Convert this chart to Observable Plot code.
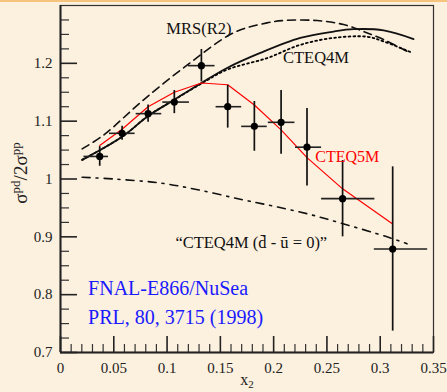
<!DOCTYPE html>
<html>
<head>
<meta charset="utf-8">
<script src="https://cdn.jsdelivr.net/npm/d3@7"></script>
<script src="https://cdn.jsdelivr.net/npm/@observablehq/plot@0.6"></script>
<style>
  html, body { margin: 0; padding: 0; background: #fcf0de; }
  #wrap { position: relative; width: 447px; height: 392px; overflow: hidden; }
  #topline { position: absolute; left: 0; top: 0; width: 447px; height: 2px; background: #f7c47e; }
</style>
</head>
<body>
<div id="wrap"><div id="chart"></div><div id="topline"></div></div>
<script>
// ---- data points (E866) ----
const xVal = [0.0368, 0.0578, 0.0822, 0.1068, 0.1322, 0.1569, 0.1819, 0.2070, 0.2313, 0.2647, 0.3117];
const yVal = [1.039, 1.079, 1.113, 1.133, 1.196, 1.125, 1.091, 1.098, 1.055, 0.966, 0.879];
const yErr = [0.017, 0.012, 0.015, 0.020, 0.028, 0.037, 0.043, 0.055, 0.067, 0.066, 0.142];
const xLo  = [0.022, 0.046, 0.071, 0.096, 0.120, 0.146, 0.170, 0.195, 0.2205, 0.245, 0.2945];
const xHi  = [0.045, 0.070, 0.095, 0.121, 0.145, 0.170, 0.194, 0.220, 0.245, 0.295, 0.3445];

// ---- curves ----
const cteq5mX = [0.0368, 0.0578, 0.0822, 0.1068, 0.1322, 0.1569, 0.1819, 0.2070, 0.2313, 0.2647, 0.3117];
const cteq5mY = [1.058, 1.086, 1.125, 1.150, 1.166, 1.163, 1.128, 1.085, 1.037, 0.983, 0.922];

const cteq4mX = [0.0203, 0.0578, 0.0822, 0.1068, 0.1322, 0.1563, 0.1875, 0.2250, 0.2563, 0.2750, 0.3032, 0.3313];
const cteq4mY = [1.033, 1.073, 1.109, 1.137, 1.166, 1.192, 1.218, 1.244, 1.255, 1.259, 1.257, 1.242];

const cteq4mDotX = [0.0203, 0.0578, 0.0822, 0.1068, 0.1322, 0.1563, 0.1938, 0.2250, 0.2563, 0.2876, 0.3030, 0.3290];
const cteq4mDotY = [1.033, 1.073, 1.109, 1.137, 1.165, 1.189, 1.209, 1.232, 1.244, 1.246, 1.238, 1.219];

const mrsX = [0.0203, 0.0405, 0.0780, 0.1203, 0.1625, 0.1938, 0.2094, 0.2407, 0.2657, 0.2845, 0.3032, 0.3282];
const mrsY = [1.052, 1.076, 1.137, 1.199, 1.253, 1.270, 1.274, 1.274, 1.267, 1.255, 1.241, 1.218];

const symX = [0.0203, 0.0500, 0.0937, 0.1300, 0.1687, 0.2000, 0.2313, 0.2626, 0.3064, 0.3252];
const symY = [1.003, 1.000, 0.993, 0.981, 0.965, 0.953, 0.940, 0.924, 0.900, 0.888];

// ---- ticks ----
const yTicks = [0.7, 0.8, 0.9, 1.0, 1.1, 1.2];
const yMinor = [0.725,0.75,0.775,0.825,0.85,0.875,0.925,0.95,0.975,1.025,1.05,1.075,1.125,1.15,1.175,1.225,1.25,1.275];
const xTicks = [0, 0.05, 0.1, 0.15, 0.2, 0.25, 0.3, 0.35];
const xMinor = [0.01,0.02,0.03,0.04,0.06,0.07,0.08,0.09,0.11,0.12,0.13,0.14,0.16,0.17,0.18,0.19,0.21,0.22,0.23,0.24,0.26,0.27,0.28,0.29,0.31,0.32,0.33,0.34];

const yLabelParts = [["σ", 0], ["pd", 1], ["/2σ", 0], ["pp", 1]];
const xLabelParts = [["x", 0], ["2", -1]];

const points = xVal.map((x, i) => ({x, y: yVal[i], ylo: yVal[i] - yErr[i], yhi: yVal[i] + yErr[i], xlo: xLo[i], xhi: xHi[i]}));
const toXY = (xs, ys) => xs.map((x, i) => ({x, y: ys[i]}));
const fmt = d => String(+d.toFixed(3));
const yLabel = yLabelParts.map(p => p[0]).join("");
const xLabel = xLabelParts.map(p => p[0]).join("");
const serif = "'Liberation Serif', 'Times New Roman', serif";

const chart = Plot.plot({
  width: 447,
  height: 392,
  marginLeft: 60,
  marginRight: 14,
  marginTop: 5,
  marginBottom: 40,
  style: {background: "transparent", fontFamily: serif, fontSize: "15px", color: "#222"},
  x: {domain: [0, 0.35]},
  y: {domain: [0.7, 1.3]},
  marks: [
    Plot.frame({stroke: "#333", strokeWidth: 1.2}),
    Plot.axisY(yTicks, {anchor: "left", tickSize: -17, tickPadding: 25, strokeWidth: 1.6, stroke: "#222", tickFormat: fmt, fontSize: 15, label: null}),
    Plot.axisY(yMinor, {anchor: "left", tickSize: -9, tickPadding: 0, strokeWidth: 1.2, stroke: "#333", tickFormat: () => "", label: null}),
    Plot.axisX(xTicks, {anchor: "bottom", tickSize: -16, tickPadding: 25.5, strokeWidth: 1.6, stroke: "#222", tickFormat: fmt, fontSize: 15, label: null}),
    Plot.axisX(xMinor, {anchor: "bottom", tickSize: -8, tickPadding: 0, strokeWidth: 1.2, stroke: "#333", tickFormat: () => "", label: null}),
    Plot.ruleX([0], {stroke: "#222", strokeWidth: 2}),
    Plot.ruleY([0.7], {stroke: "#222", strokeWidth: 2}),
    // curves
    Plot.line(toXY(symX, symY), {x: "x", y: "y", curve: "catmull-rom", stroke: "#111", strokeWidth: 1.6, strokeDasharray: "8,6,2,6"}),
    Plot.line(toXY(mrsX, mrsY), {x: "x", y: "y", curve: "catmull-rom", stroke: "#111", strokeWidth: 1.6, strokeDasharray: "8,5"}),
    Plot.line(toXY(cteq4mDotX, cteq4mDotY), {x: "x", y: "y", curve: "catmull-rom", stroke: "#000", strokeWidth: 1.8, strokeDasharray: "1.8,3"}),
    Plot.line(toXY(cteq4mX, cteq4mY), {x: "x", y: "y", curve: "catmull-rom", stroke: "#111", strokeWidth: 1.8}),
    Plot.line(toXY(cteq5mX, cteq5mY), {x: "x", y: "y", stroke: "#ff0000", strokeWidth: 1.2}),
    // data
    Plot.ruleY(points, {y: "y", x1: "xlo", x2: "xhi", stroke: "#222", strokeWidth: 1.6}),
    Plot.ruleX(points, {x: "x", y1: "ylo", y2: "yhi", stroke: "#111", strokeWidth: 1.7}),
    Plot.dot(points, {x: "x", y: "y", r: 3.6, fill: "#000", stroke: "none"}),
    // annotations
    Plot.text(["MRS(R2)"], {x: 0.0993, y: 1.251, text: d => d, textAnchor: "start", lineAnchor: "bottom", fontSize: 16.5, fill: "#111"}),
    Plot.text(["CTEQ4M"], {x: 0.2088, y: 1.200, text: d => d, textAnchor: "start", lineAnchor: "bottom", fontSize: 16.5, fill: "#111"}),
    Plot.text(["CTEQ5M"], {x: 0.2391, y: 1.030, text: d => d, textAnchor: "start", lineAnchor: "bottom", fontSize: 16, fill: "#ff0000"}),
    Plot.text(["\u201CCTEQ4M (d\u0304 - \u016B = 0)\u201D"], {x: 0.1078, y: 0.880, text: d => d, textAnchor: "start", lineAnchor: "bottom", fontSize: 16.5, fill: "#111"}),
    Plot.text(["FNAL-E866/NuSea"], {x: 0.0259, y: 0.7995, text: d => d, textAnchor: "start", lineAnchor: "bottom", fontSize: 20, fill: "#1a1aff"}),
    Plot.text(["PRL, 80, 3715 (1998)"], {x: 0.0259, y: 0.7493, text: d => d, textAnchor: "start", lineAnchor: "bottom", fontSize: 20, fill: "#1a1aff"}),
    // axis labels
    Plot.text([xLabel], {frameAnchor: "bottom", dy: 32, text: d => d, textAnchor: "middle", lineAnchor: "bottom", fontSize: 16, fill: "#222"}),
    Plot.text([yLabel], {frameAnchor: "left", dx: -34, dy: -6, rotate: -90, text: d => d, textAnchor: "middle", lineAnchor: "bottom", fontSize: 19, fill: "#222"})
  ]
});

document.getElementById("chart").appendChild(chart);

function richText(content, parts, supShift, subShift, small) {
  d3.select(chart).selectAll("text").filter(function () { return this.textContent === content; }).each(function () {
    const el = d3.select(this);
    el.text(null);
    let cur = 0;
    parts.forEach(([t, s]) => {
      const ts = el.append("tspan").text(t);
      const target = s > 0 ? -supShift : s < 0 ? subShift : 0;
      if (target !== cur) ts.attr("dy", (target - cur) + "px");
      if (s !== 0) ts.attr("font-size", small);
      cur = target;
    });
  });
}
richText(yLabel, yLabelParts, 7, 4, "13px");
richText(xLabel, xLabelParts, 6, 3, "11px");
</script>
</body>
</html>
